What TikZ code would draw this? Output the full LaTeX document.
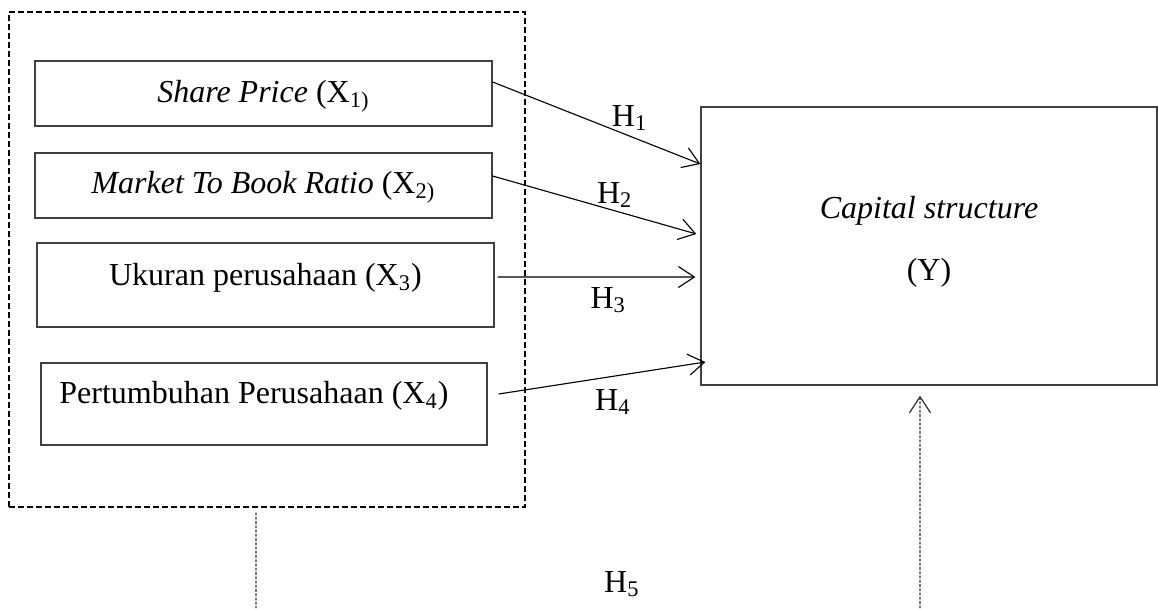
\documentclass[tikz,border=0pt]{standalone}
\usepackage{fontspec}
\setmainfont{Liberation Serif}
\usetikzlibrary{arrows.meta}

\begin{document}
\begin{tikzpicture}[x=0.4pt,y=-0.4pt,>={Straight Barb[length=6.4pt,width=8.4pt]},
  line width=0.45pt,every node/.style={font=\fontsize{12.8}{15.4}\selectfont},
  var node/.style={draw=black!75,line width=0.5pt,rectangle,inner sep=0pt,minimum width=182.8pt},
  group box/.style={draw,dash pattern=on 2.4pt off 1.2pt,line width=0.55pt,inner sep=0pt,
    minimum width=206.4pt,minimum height=198pt},
  dot line/.style={draw=black!80,line width=0.5pt,dash pattern=on 1.1pt off 0.6pt},
  lbl/.style={inner sep=0pt}]

  \useasboundingbox (0,0) rectangle (1158,608);

  \node[group box] (grp) at (267,259.5) {};

  \node[var node,text height=16.6pt,text depth=9.4pt] (x1) at (263.5,93.5)
    {\textit{Share Price} (X\textsubscript{1)}};
  \node[var node,text height=16.2pt,text depth=9.8pt] (x2) at (263.5,185.5)
    {\textit{Market To Book Ratio} (X\textsubscript{2)}};
  \node[var node,text height=17pt,text depth=16.6pt] (x3) at (265.5,285)
    {Ukuran perusahaan (X\textsubscript{3})};
  \node[var node,minimum width=178.4pt,text height=16.2pt,text depth=16.6pt] (x4) at (264,404)
    {Pertumbuhan Perusahaan (X\textsubscript{4})\hspace*{8pt}};

  \node[var node,minimum width=182.4pt,align=center,text height=69.2pt,text depth=42pt] (y) at (929,246)
    {\textit{Capital structure}\\[9.4pt](Y)};

  \path[->]
    ([yshift=4.6pt]x1.east) edge node[lbl,pos=.66,yshift=7.2pt] {H\textsubscript{1}} ([yshift=32.8pt]y.west)
    ([yshift=3.8pt]x2.east) edge node[lbl,pos=.6,yshift=6.3pt] {H\textsubscript{2}} ([xshift=-1.6pt,yshift=4.8pt]y.west)
    ([xshift=1.2pt,yshift=3.2pt]x3.east) edge node[lbl,pos=.56,yshift=-9.2pt] {H\textsubscript{3}} ([xshift=-2pt,yshift=-12.4pt]y.west)
    ([xshift=4.4pt,yshift=4pt]x4.east) edge node[lbl,pos=.553,yshift=-10.3pt] {H\textsubscript{4}} ([xshift=2pt,yshift=-46.4pt]y.west);

  % moderating path
  \coordinate (lowleft) at (256,608);
  \coordinate (lowright) at (920,608);
  \node[lbl] (h5) at (622,584) {H\textsubscript{5}};
  \draw[dot line] ([xshift=-4.4pt,yshift=-2pt]grp.south) -- (lowleft);
  \draw[dot line,->] (lowright) -- ([xshift=-3.6pt,yshift=-4pt]y.south);
\end{tikzpicture}
\end{document}
